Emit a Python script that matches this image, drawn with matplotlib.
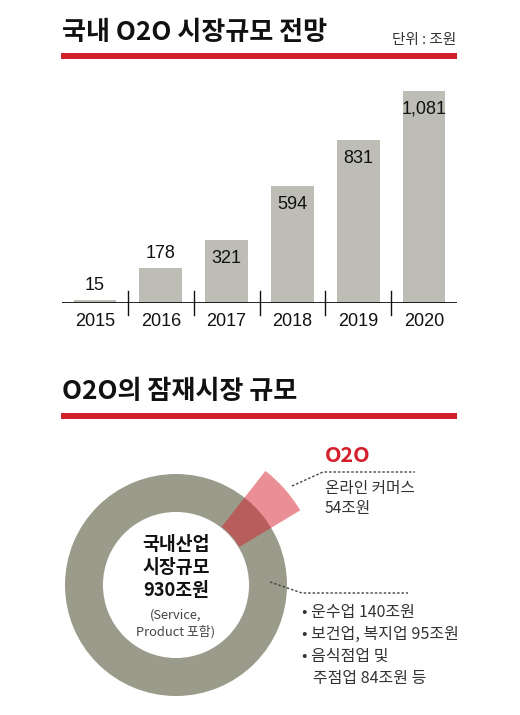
import matplotlib
matplotlib.use("Agg")
import matplotlib.pyplot as plt
from matplotlib.lines import Line2D
from matplotlib.patches import Rectangle

# data
years = ["2015", "2016", "2017", "2018", "2019", "2020"]
market = [15, 178, 321, 594, 831, 1081]
industry_total = 930
o2o_size = 54
bullets = ["• 운수업 140조원", "• 보건업, 복지업 95조원", "• 음식점업 및", "   주점업 84조원 등"]

KR = ["Noto Sans CJK KR", "DejaVu Sans"]
NUM = ["Liberation Sans Narrow", "Liberation Sans", "DejaVu Sans"]
RED = "#d4202c"
W, H = 520, 715

fig = plt.figure(figsize=(W / 100, H / 100), dpi=100)

#helper: pixel position (from top-left) to figure fraction
def fx(x):
    return x / W

def fy(y):
    return 1 - y / H

def red_rule(y):
    fig.add_artist(Rectangle((fx(61), fy(y + 3)), fx(457) - fx(61), 6 / H,
                             transform=fig.transFigure, color=RED, lw=0))

#Top section: bar chart
fig.text(fx(62), fy(33), "국내 O2O 시장규모 전망", family=KR, fontsize=18.8,
         fontweight="heavy", va="center", ha="left", color="#111")
fig.text(fx(456), fy(40), "단위 : 조원", family=KR, fontsize=10.5,
         va="center", ha="right", color="#333")
red_rule(56)

ax = fig.add_axes([fx(62), fy(303), fx(457) - fx(62), (303 - 80) / H])
x = range(len(years))
ax.bar(x, market, width=0.65, color="#bdbdb5")
ax.set_xlim(-0.5, 5.5)
ax.set_ylim(0, 1137)
for s in ax.spines.values():
    s.set_visible(False)
ax.axhline(0, color="#111", lw=1.3)
for b in [0.5, 1.5, 2.5, 3.5, 4.5]:
    ax.axvline(b, ymin=-0.054, ymax=0.054, color="#111", lw=1, clip_on=False)
ax.set_yticks([])
ax.set_xticks(list(x))
ax.set_xticklabels(years, family=NUM, fontsize=13, color="#111")
ax.tick_params(axis="x", length=0, pad=7)
for i, v in enumerate(market):
    if v < 200:
        ax.annotate(f"{v:,}", (i, v), xytext=(0, 15), textcoords="offset pixels",
                    ha="center", va="center", family=NUM, fontsize=13, color="#111")
    else:
        ax.annotate(f"{v:,}", (i, v), xytext=(0, -18), textcoords="offset pixels",
                    ha="center", va="center", family=NUM, fontsize=13, color="#111")

#Bottom section: donut
fig.text(fx(62), fy(391), "O2O의 잠재시장 규모", family=KR, fontsize=18.8,
         fontweight="heavy", va="center", ha="left", color="#111")
red_rule(416)

cx, cy, side = 176, 585, 320
dax = fig.add_axes([fx(cx - side / 2), fy(cy + side / 2), side / W, side / H])
dax.pie([industry_total], radius=1.0, colors=["#9a9b8b"],
        wedgeprops=dict(width=0.342, linewidth=0), startangle=90)
wedges, _ = dax.pie([o2o_size, industry_total - o2o_size], radius=1.306,
                    startangle=31, counterclock=True,
                    colors=[RED, "white"], wedgeprops=dict(width=0.64, linewidth=0))
wedges[0].set_alpha(0.5)
wedges[1].set_visible(False)
lim = side / 2 / 111
dax.set_xlim(-lim, lim)
dax.set_ylim(-lim, lim)
dax.set_aspect("equal")
dax.axis("off")

center_lines = ["국내산업", "시장규모", "930조원"]
for k, t in enumerate(center_lines):
    fig.text(fx(cx), fy(545 + 22.5 * k), t, family=KR, fontsize=13.2,
             fontweight="bold", ha="center", va="center", color="#111")
fig.text(fx(cx), fy(615), "(Service,", family=KR, fontsize=9.3, ha="center",
         va="center", color="#444")
fig.text(fx(cx), fy(632), "Product 포함)", family=KR, fontsize=9.3, ha="center",
         va="center", color="#444")

#leader lines
dash = (0, (1.8, 1.4))
fig.add_artist(Line2D([fx(292), fx(323), fx(415)], [fy(486), fy(472), fy(472)],
                      transform=fig.transFigure, color="#444", lw=1, linestyle=dash))
fig.add_artist(Line2D([fx(270), fx(302), fx(408)], [fy(582), fy(593), fy(593)],
                      transform=fig.transFigure, color="#444", lw=1, linestyle=dash))

fig.text(fx(325), fy(455), "O2O", family=KR, fontsize=15.5, fontweight="bold",
         color=RED, ha="left", va="center")
fig.text(fx(325), fy(488), "온라인 커머스", family=KR, fontsize=11.3,
         color="#333", ha="left", va="center")
fig.text(fx(325), fy(508), "54조원", family=KR, fontsize=11.3,
         color="#333", ha="left", va="center")

for k, t in enumerate(bullets):
    fig.text(fx(302), fy(613 + 21.8 * k), t, family=KR, fontsize=11.5,
             color="#333", ha="left", va="center")

fig.savefig("out.png", dpi=100)
